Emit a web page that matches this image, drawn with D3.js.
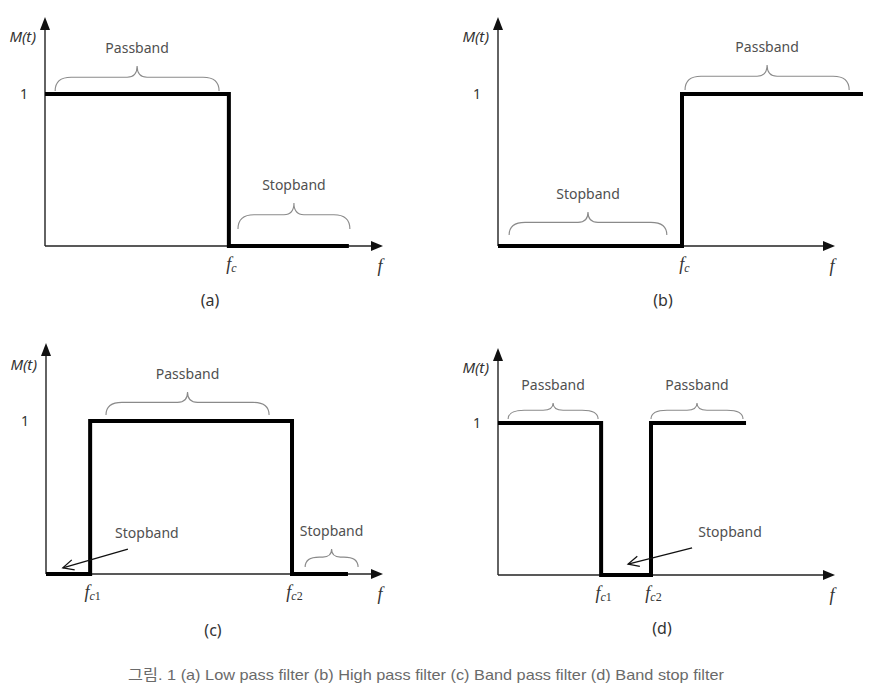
<!DOCTYPE html>
<html><head><meta charset="utf-8">
<script src="https://cdn.jsdelivr.net/npm/d3@7"></script>
<style>
body{margin:0;background:#fff;}
svg{display:block;}
</style></head>
<body>
<svg id="chart" width="870" height="697"></svg>
<script>
// ---- data (frequency in arbitrary units 0..10 along each axis, magnitude 0..1) ----
const panelIds = ["a", "b", "c", "d"];
const panelTitles = ["(a)", "(b)", "(c)", "(d)"];
const responseX = [
  [0, 5.44, 8.99],              // low pass
  [0, 5.46, 10.83],             // high pass
  [0, 1.31, 7.30, 8.96],        // band pass
  [0, 3.06, 4.54, 7.36]         // band stop
];
const responseY = [
  [1, 0, 0],
  [0, 1, 1],
  [0, 1, 0, 0],
  [1, 0, 1, 1]
];
const cutoffValues = [[5.44], [5.46], [1.31, 7.30], [3.06, 4.54]];
const cutoffLabels = [["c"], ["c"], ["c1", "c2"], ["c1", "c2"]];
const yTickValues = [1];
const yTickLabels = ["1"];
const yAxisLabel = "M(t)";
const xAxisLabel = "f";
// braces: [panel, lo, hi, level, label]
const braceBands = [
  [0, 0.30, 5.15, 1, "Passband"],
  [0, 5.71, 9.02, 0, "Stopband"],
  [1, 0.33, 5.01, 0, "Stopband"],
  [1, 5.55, 10.42, 1, "Passband"],
  [2, 1.78, 6.62, 1, "Passband"],
  [2, 7.69, 9.26, 0, "Stopband"],
  [3, 0.30, 2.97, 1, "Passband"],
  [3, 4.54, 7.27, 1, "Passband"]
];
// pointer annotations: [panel, fromX, fromY, toX, toY, label]
const pointerNotes = [
  [2, 2.43, 0.163, 0.50, 0.04, "Stopband"],
  [3, 5.76, 0.178, 3.86, 0.072, "Stopband"]
];
const captionText = "그림. 1 (a) Low pass filter (b) High pass filter (c) Band pass filter (d) Band stop filter";

// ---- layout ----
const panelLayout = [
  {x0: 45,  x1: 383, base: 246, one: 94,  top: 17,  titleX: 210, titleY: 306, mtY: 42},
  {x0: 498, x1: 835, base: 246, one: 94,  top: 17,  titleX: 663, titleY: 306, mtY: 42},
  {x0: 46,  x1: 383, base: 574, one: 421, top: 343, titleX: 213, titleY: 636, mtY: 370},
  {x0: 498, x1: 835, base: 575, one: 423, top: 348, titleX: 662, titleY: 634, mtY: 373}
];
// brace geometry: gap above level (px), height (px)
const braceGeom = [
  {gap: 3, h: 25}, {gap: 17, h: 26}, {gap: 11, h: 23}, {gap: 4, h: 25},
  {gap: 6, h: 23}, {gap: 7, h: 18}, {gap: 4, h: 16}, {gap: 4, h: 16}
];
const pointerTextPos = [{dx: 19, dy: -11}, {dx: 38, dy: -11}];

const svg = d3.select("#chart");
const textFont = "'Noto Sans', 'Open Sans', sans-serif";
const textColor = "#505050";

function bracePath(xa, xb, yb, h) {
  const mid = (xa + xb) / 2;
  const r = Math.min(10, (xb - xa) / 6);
  const ym = yb - h * 0.55;
  const p = d3.path();
  p.moveTo(xa, yb);
  p.quadraticCurveTo(xa, ym, xa + r * 1.6, ym);
  p.lineTo(mid - r, ym);
  p.quadraticCurveTo(mid, ym, mid, yb - h);
  p.quadraticCurveTo(mid, ym, mid + r, ym);
  p.lineTo(xb - r * 1.6, ym);
  p.quadraticCurveTo(xb, ym, xb, yb);
  return p.toString();
}

panelIds.forEach((id, i) => {
  const L = panelLayout[i];
  const x = d3.scaleLinear().domain([0, 10]).range([L.x0, L.x1]);
  const y = d3.scaleLinear().domain([0, 1]).range([L.base, L.one]);
  const g = svg.append("g").attr("id", "panel-" + id);

  // axes lines with arrowheads
  g.append("line").attr("x1", x(0)).attr("y1", y(0)).attr("x2", x(10) - 8).attr("y2", y(0))
    .attr("stroke", "#222").attr("stroke-width", 1.4);
  g.append("path").attr("d", `M${x(10)},${y(0)} L${x(10) - 12},${y(0) - 5} L${x(10) - 12},${y(0) + 5} Z`).attr("fill", "#111");
  g.append("line").attr("x1", x(0)).attr("y1", y(0)).attr("x2", x(0)).attr("y2", L.top + 8)
    .attr("stroke", "#222").attr("stroke-width", 1.4);
  g.append("path").attr("d", `M${x(0)},${L.top} L${x(0) - 5},${L.top + 13} L${x(0) + 5},${L.top + 13} Z`).attr("fill", "#111");

  // y tick "1"
  const ya = g.append("g").attr("transform", `translate(${x(0)},0)`)
    .call(d3.axisLeft(y).tickValues(yTickValues).tickSize(0).tickPadding(17).tickFormat((d, k) => yTickLabels[k]));
  ya.select(".domain").remove();
  ya.selectAll("text").attr("font-family", textFont).attr("font-size", 14).attr("fill", "#333");

  // x cutoff ticks
  const xa = g.append("g").attr("transform", `translate(0,${y(0)})`)
    .call(d3.axisBottom(x).tickValues(cutoffValues[i]).tickSize(0).tickPadding(15).tickFormat(""));
  xa.select(".domain").remove();
  xa.selectAll(".tick text").each(function(d, k) {
    const t = d3.select(this).attr("font-family", "'Liberation Serif', 'DejaVu Serif', serif")
      .attr("font-style", "italic").attr("fill", "#333").attr("dy", "0.9em").attr("dx", "0.2em");
    t.append("tspan").attr("font-size", 18).text("f");
    const lab = cutoffLabels[i][k];
    t.append("tspan").attr("font-size", 12).attr("dy", 2).text(lab[0]);
    if (lab.length > 1) t.append("tspan").attr("font-size", 12).attr("font-style", "normal").text(lab.slice(1));
  });

  // axis names
  g.append("text").attr("x", x(10) - 3).attr("y", y(0) + 26).attr("text-anchor", "middle")
    .attr("font-family", "'Liberation Serif', serif").attr("font-style", "italic").attr("font-size", 18)
    .attr("fill", "#333").text(xAxisLabel);
  g.append("text").attr("x", x(0) - 9).attr("y", L.mtY).attr("text-anchor", "end")
    .attr("font-family", textFont).attr("font-style", "italic").attr("font-size", 15)
    .attr("fill", "#333").text(yAxisLabel);

  // response
  const pts = responseX[i].map((v, k) => [v, responseY[i][k]]);
  g.append("path").datum(pts)
    .attr("d", d3.line().x(d => x(d[0])).y(d => y(d[1])).curve(d3.curveStepAfter))
    .attr("fill", "none").attr("stroke", "#000").attr("stroke-width", 4).attr("stroke-linejoin", "miter");

  // braces
  braceBands.forEach((b, k) => {
    if (b[0] !== i) return;
    const G = braceGeom[k];
    const yb = y(b[3]) - G.gap;
    g.append("path").attr("d", bracePath(x(b[1]), x(b[2]), yb, G.h))
      .attr("fill", "none").attr("stroke", "#8a8a8a").attr("stroke-width", 1.1);
    g.append("text").attr("x", (x(b[1]) + x(b[2])) / 2).attr("y", yb - G.h - 13)
      .attr("text-anchor", "middle").attr("font-family", textFont).attr("font-size", 14)
      .attr("fill", textColor).text(b[4]);
  });

  // pointer notes
  pointerNotes.forEach((n, k) => {
    if (n[0] !== i) return;
    const fx = x(n[1]), fy = y(n[2]), tx = x(n[3]), ty = y(n[4]);
    g.append("line").attr("x1", fx).attr("y1", fy).attr("x2", tx).attr("y2", ty)
      .attr("stroke", "#111").attr("stroke-width", 1.3);
    const ang = Math.atan2(ty - fy, tx - fx);
    const ah = 12, spread = 0.45;
    const p1 = [tx - ah * Math.cos(ang - spread), ty - ah * Math.sin(ang - spread)];
    const p2 = [tx - ah * Math.cos(ang + spread), ty - ah * Math.sin(ang + spread)];
    g.append("path").attr("d", `M${p1[0]},${p1[1]} L${tx},${ty} L${p2[0]},${p2[1]}`)
      .attr("fill", "none").attr("stroke", "#111").attr("stroke-width", 1.3);
    const P = pointerTextPos[k];
    g.append("text").attr("x", fx + P.dx).attr("y", fy + P.dy).attr("text-anchor", "middle")
      .attr("font-family", textFont).attr("font-size", 14).attr("fill", textColor).text(n[5]);
  });

  // panel title
  g.append("text").attr("x", L.titleX).attr("y", L.titleY).attr("text-anchor", "middle")
    .attr("font-family", textFont).attr("font-size", 16).attr("fill", "#333").text(panelTitles[i]);
});

svg.append("text").attr("x", 426).attr("y", 680).attr("text-anchor", "middle")
  .attr("font-family", "'Liberation Sans', Arial, 'Noto Sans CJK KR', sans-serif").attr("font-size", 15)
  .attr("textLength", 596).attr("lengthAdjust", "spacingAndGlyphs")
  .attr("fill", "#6a6a6a").text(captionText);
</script>
</body></html>
